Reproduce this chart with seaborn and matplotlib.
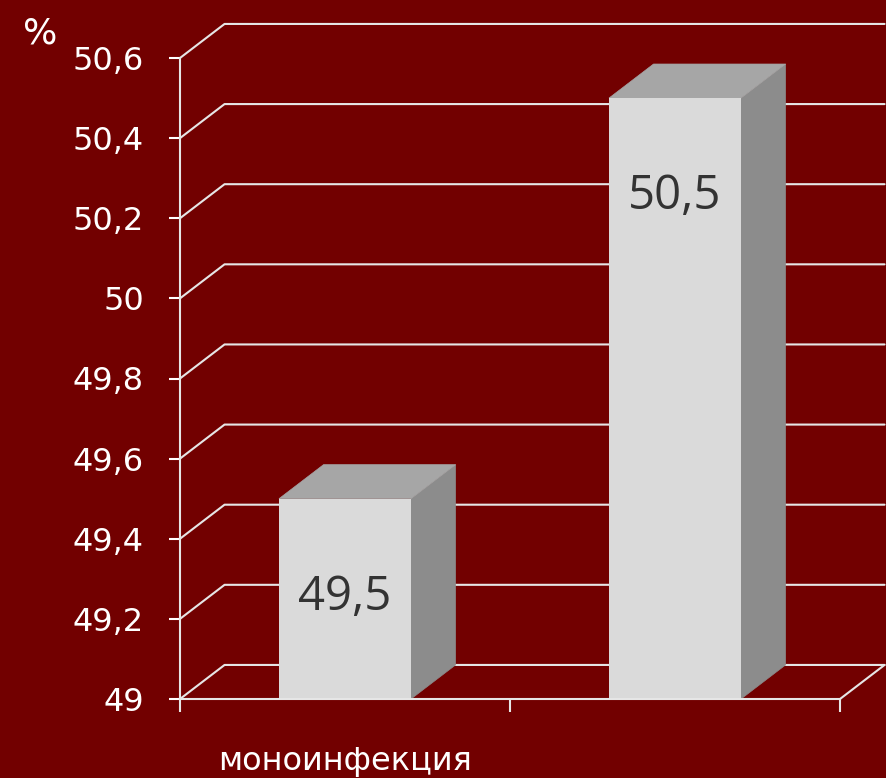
import numpy as np
import pandas as pd
import matplotlib
matplotlib.use("Agg")
import matplotlib.pyplot as plt
import seaborn as sns
from matplotlib.patches import Polygon

# data
categories = ["моноинфекция", ""]
values = [49.5, 50.5]
value_labels = ["49,5", "50,5"]
y_ticks = [49.0, 49.2, 49.4, 49.6, 49.8, 50.0, 50.2, 50.4, 50.6]
y_tick_labels = ["49", "49,2", "49,4", "49,6", "49,8", "50", "50,2", "50,4", "50,6"]

BG = "#720000"
FRONT = "#dadada"
SIDE = "#8c8c8c"
TOP = "#a6a6a6"
LINE = "#e6e6e6"
DX, DY = 0.135, 0.085  # fake 3d depth, in data units

sns.set_style("white")
plt.rcParams["font.family"] = ["DejaVu Sans"]

fig = plt.figure(figsize=(8.87, 7.78), dpi=100, facecolor=BG)
ax = fig.add_axes([180 / 887, 79 / 778, 660 / 887, 641 / 778])
ax.set_facecolor(BG)

df = pd.DataFrame({"group": categories, "value": values})
sns.barplot(data=df, x="group", y="value", width=0.4, color=FRONT,
            saturation=1, linewidth=0, ax=ax, zorder=3)

ax.set_xlim(-0.5, 1.5)
ax.set_ylim(49, 50.6)

# back wall lines + diagonals
for v in y_ticks:
    ax.plot([-0.5, -0.5 + DX, 1.5 + DX], [v, v + DY, v + DY],
            color=LINE, lw=1.5, clip_on=False, zorder=1)
ax.plot([1.5, 1.5 + DX], [49, 49 + DY], color=LINE, lw=1.5, clip_on=False, zorder=1)

# side and top faces of the bars
for p in list(ax.patches):
    x0 = p.get_x()
    x1 = x0 + p.get_width()
    top = p.get_y() + p.get_height()
    side = Polygon([(x1, 49), (x1 + DX, 49 + DY), (x1 + DX, top + DY), (x1, top)],
                   closed=True, facecolor=SIDE, edgecolor=SIDE, lw=0.5, zorder=2.9, clip_on=False)
    lid = Polygon([(x0, top), (x0 + DX, top + DY), (x1 + DX, top + DY), (x1, top)],
                  closed=True, facecolor=TOP, edgecolor=TOP, lw=0.5, zorder=2.9, clip_on=False)
    ax.add_patch(side)
    ax.add_patch(lid)

for i, (v, lab) in enumerate(zip(values, value_labels)):
    ax.text(i, v - 0.245, lab, ha="center", va="center", fontsize=34,
            color="#333333", family="Open Sans", zorder=4)

for s in ["top", "right"]:
    ax.spines[s].set_visible(False)
for s in ["left", "bottom"]:
    ax.spines[s].set_color(LINE)
    ax.spines[s].set_linewidth(1.5)
    ax.spines[s].set_zorder(5)

ax.set_yticks(y_ticks, y_tick_labels)
ax.tick_params(axis="y", left=True, colors="white", length=8, width=1.5, pad=18, labelsize=23)

ax.set_xticks([-0.5, 0.5, 1.5], ["", "", ""])
ax.set_xticks([0, 1], categories, minor=True)
ax.tick_params(axis="x", which="major", bottom=True, length=9, width=1.5, color=LINE, direction="out")
ax.tick_params(axis="x", which="minor", bottom=True, length=0, pad=34, labelsize=23, labelcolor="white")
ax.set_xlabel("")
ax.set_ylabel("")

fig.text(40 / 887, 1 - 33 / 778, "%", color="white", fontsize=26, ha="center", va="center")

fig.savefig("out.png", dpi=100, facecolor=BG)
